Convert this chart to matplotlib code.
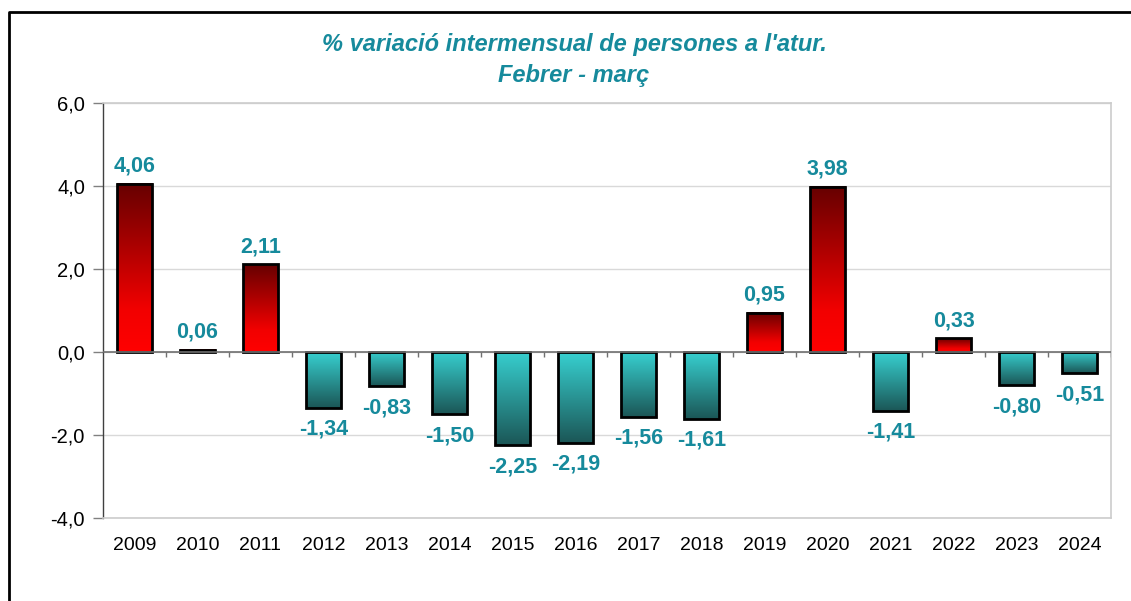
import numpy as np
import matplotlib as mpl
mpl.use('Agg')
import matplotlib.pyplot as plt  # noqa
from matplotlib.colors import LinearSegmentedColormap
from matplotlib.lines import Line2D
from matplotlib.ticker import FuncFormatter

plt.rcParams['font.family'] = ['Liberation Sans', 'DejaVu Sans']

years = ['2009', '2010', '2011', '2012', '2013', '2014', '2015', '2016',
         '2017', '2018', '2019', '2020', '2021', '2022', '2023', '2024']
variacio = [4.06, 0.06, 2.11, -1.34, -0.83, -1.50, -2.25, -2.19,
            -1.56, -1.61, 0.95, 3.98, -1.41, 0.33, -0.80, -0.51]
title = "% variació intermensual de persones a l'atur.\nFebrer - març"

teal = '#168A9C'
cmap_pos = LinearSegmentedColormap.from_list(
    'pos', [(0, '#ff0000'), (0.25, '#f20000'), (1, '#660000')])
cmap_neg = LinearSegmentedColormap.from_list(
    'neg', [(0, '#1b5656'), (1, '#37d0d0')])

W, H = 1131, 601
fig = plt.figure(figsize=(W / 100, H / 100), dpi=100)
ax = fig.add_axes([103 / W, (H - 518) / H, (1111 - 103) / W, (518 - 103) / H])

x = np.arange(len(years))
width = 0.57
grad = np.linspace(0, 1, 256).reshape(-1, 1)
for xi, v in zip(x, variacio):
    cmap = cmap_pos if v >= 0 else cmap_neg
    ax.imshow(grad, cmap=cmap, origin='lower', aspect='auto',
              extent=(xi - width / 2, xi + width / 2, min(v, 0), max(v, 0)),
              zorder=2, interpolation='bilinear')
ax.bar(x, variacio, width=width, facecolor='none', edgecolor='black',
       linewidth=2, zorder=3)

for xi, v in zip(x, variacio):
    txt = '{:.2f}'.format(v).replace('.', ',')
    if v >= 0:
        ax.annotate(txt, (xi, v), xytext=(0, 5), textcoords='offset points',
                    ha='center', va='bottom', color=teal, fontsize=15.5,
                    fontweight='bold')
    else:
        ax.annotate(txt, (xi, v), xytext=(0, -8), textcoords='offset points',
                    ha='center', va='top', color=teal, fontsize=15.5,
                    fontweight='bold')

ax.set_xlim(-0.5, len(years) - 0.5)
ax.set_ylim(-4, 6)
ax.set_yticks(np.arange(-4, 6.1, 2))
ax.yaxis.set_major_formatter(FuncFormatter(
    lambda v, p: '{:.1f}'.format(v).replace('.', ',')))
ax.set_xticks(x)
ax.set_xticklabels(years)
ax.tick_params(axis='x', length=0, pad=14, labelsize=14)
ax.tick_params(axis='y', length=7, width=1, color='#808080', labelsize=14.5,
               pad=6)
ax.grid(axis='y', color='#d9d9d9', linewidth=1, zorder=0)
ax.set_axisbelow(True)
for side in ['top', 'right', 'bottom']:
    ax.spines[side].set_color('#cccccc')
    ax.spines[side].set_linewidth(1.2)
ax.spines['left'].set_color('#404040')
ax.spines['left'].set_linewidth(1)

# eix horitzontal a zero amb marques entre categories
ax.axhline(0, color='#707070', linewidth=1.2, zorder=4)
ax.vlines(x + 0.5, -0.13, 0, color='#707070', linewidth=1, zorder=4)

fig.text(574 / W, 1 - 60 / H, title, ha='center', va='center',
         color=teal, fontsize=17, fontweight='bold', style='italic',
         linespacing=1.4)

fig.add_artist(Line2D([9 / W, 9 / W, 1], [0, 1 - 12 / H, 1 - 12 / H],
                      transform=fig.transFigure, color='black', linewidth=2))

fig.savefig('out.png', dpi=100, facecolor='white')
